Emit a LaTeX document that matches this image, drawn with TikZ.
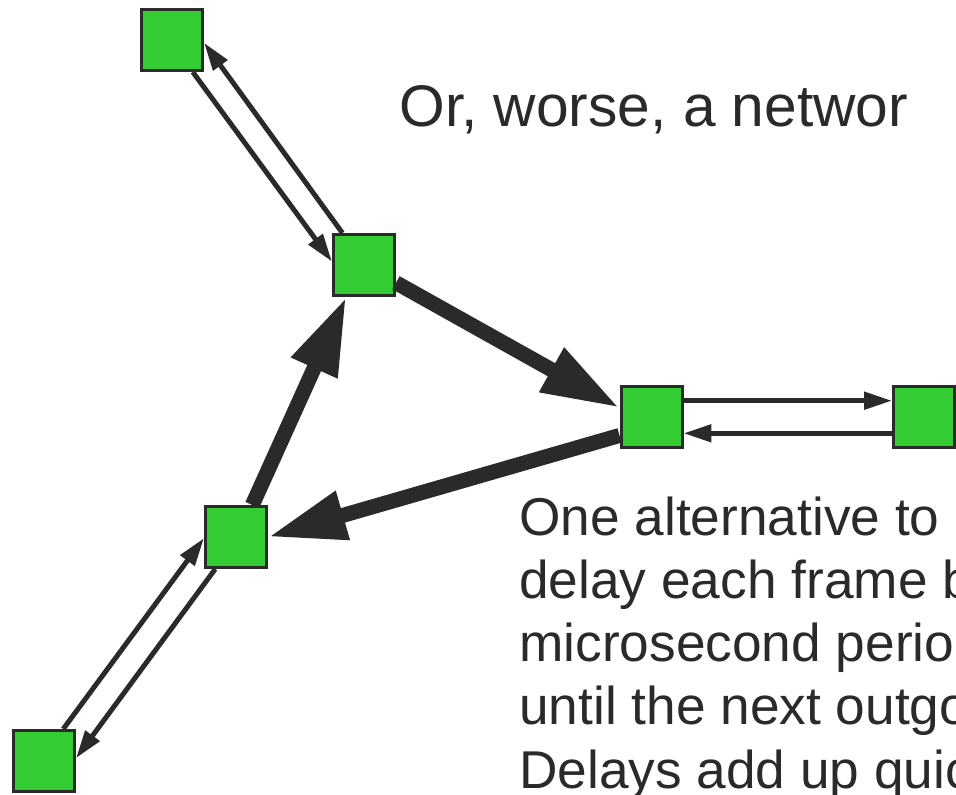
\documentclass[tikz,border=0pt]{standalone}
\usepackage{fontspec}
\setmainfont{Liberation Sans}
\usetikzlibrary{arrows.meta}
\definecolor{boxgreen}{RGB}{51,204,51}
\definecolor{ink}{RGB}{42,42,42}

\begin{document}
\begin{tikzpicture}[x=0.02cm, y=-0.02cm,
    station/.style={draw=ink, fill=boxgreen, line width=0.06cm, minimum size=1.22cm, inner sep=0},
    link/.style={draw=ink, line width=0.1cm, -{Triangle[length=0.56cm, width=0.34cm]}},
    trunk/.style={draw=ink, line width=0.3cm, -{Triangle[length=1.56cm, width=0.94cm]}},
    words/.style={anchor=base west, inner sep=0, text=ink}]
    \def\lead{63.3}
    \useasboundingbox (0, 0) rectangle (956, 794);
    \clip (0, 0) rectangle (956, 794);

    \node[station] (A) at (172, 40) {};
    \node[station] (B) at (364, 265) {};
    \node[station] (C) at (651.5, 417) {};
    \node[station] (D) at (924, 417) {};
    \node[station] (E) at (236, 537) {};
    \node[station] (F) at (44, 761) {};

    \draw[link] (A.-57) -- (B.174);
    \draw[link] (B.124) -- (A.-5);
    \draw[link] (C.27) -- (D.153);
    \draw[link] (D.-153) -- (C.-27);
    \draw[link] (F.59) -- (E.182);
    \draw[link] (E.-123) -- (F.5);

    \draw[trunk] (B.-29) -- (C.164);
    \draw[trunk] (C.210) -- (E.0);
    \draw[trunk] (E.63) -- (B.241);

    \node[words, font=\fontsize{33.4pt}{40pt}\selectfont] (title) at (399, 127) {Or, worse, a networ};
    \foreach \txt [count=\i] in {One alternative to, delay each frame b, microsecond perio, until the next outgo, Delays add up quic}
        \node[words, font=\fontsize{30.3pt}{36pt}\selectfont] (line\i) at (519, {535 + \lead * (\i - 1)}) {\txt};
\end{tikzpicture}
\end{document}
